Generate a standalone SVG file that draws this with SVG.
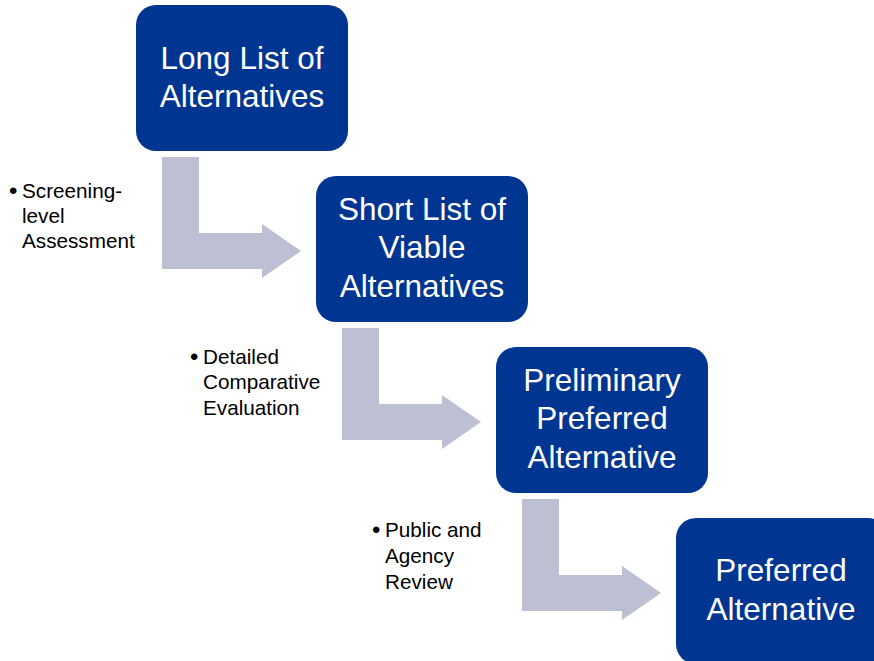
<svg xmlns="http://www.w3.org/2000/svg" width="874" height="661" viewBox="0 0 874 661">
  <style>
    .box { fill: #003591; }
    .title { font-family: "Liberation Sans", Arial, sans-serif; font-size: 31.5px; fill: #ffffff; text-anchor: middle; }
    .note { font-family: "Liberation Sans", Arial, sans-serif; font-size: 20.7px; fill: #000000; }
    .dot { font-family: "Liberation Sans", Arial, sans-serif; font-size: 24px; fill: #000000; }
    .bend { fill: #BDBFD3; }
  </style>
  <defs>
    <!-- bent arrow: down, then right into the next step -->
    <path id="bentArrow" d="M162,157 H199 V233 H262 V224 L301,251 L262,278 V269 H162 Z"/>
  </defs>

  <g id="connectors">
    <use href="#bentArrow" class="bend"/>
    <use href="#bentArrow" class="bend" transform="translate(180,171)"/>
    <use href="#bentArrow" class="bend" transform="translate(360,342)"/>
  </g>

  <g id="long-list">
    <rect class="box" x="136" y="5" width="212" height="146" rx="20"/>
    <text class="title" x="242" y="69">Long List of</text>
    <text class="title" x="242" y="107">Alternatives</text>
  </g>

  <g id="short-list">
    <rect class="box" x="316" y="176" width="212" height="146" rx="20"/>
    <text class="title" x="422" y="220">Short List of</text>
    <text class="title" x="422" y="258">Viable</text>
    <text class="title" x="422" y="297">Alternatives</text>
  </g>

  <g id="preliminary-preferred">
    <rect class="box" x="496" y="347" width="212" height="146" rx="20"/>
    <text class="title" x="602" y="391">Preliminary</text>
    <text class="title" x="602" y="429">Preferred</text>
    <text class="title" x="602" y="468">Alternative</text>
  </g>

  <g id="preferred">
    <rect class="box" x="676" y="518" width="212" height="146" rx="20"/>
    <text class="title" x="781" y="581">Preferred</text>
    <text class="title" x="781" y="620">Alternative</text>
  </g>

  <g id="note-screening">
    <text class="dot" x="9" y="199">•</text>
    <text class="note" x="22" y="198">Screening-</text>
    <text class="note" x="22" y="223">level</text>
    <text class="note" x="22" y="248">Assessment</text>
  </g>

  <g id="note-evaluation">
    <text class="dot" x="190" y="365">•</text>
    <text class="note" x="203" y="364">Detailed</text>
    <text class="note" x="203" y="389">Comparative</text>
    <text class="note" x="203" y="415">Evaluation</text>
  </g>

  <g id="note-review">
    <text class="dot" x="372" y="538">•</text>
    <text class="note" x="385" y="537">Public and</text>
    <text class="note" x="385" y="563">Agency</text>
    <text class="note" x="385" y="589">Review</text>
  </g>
</svg>
